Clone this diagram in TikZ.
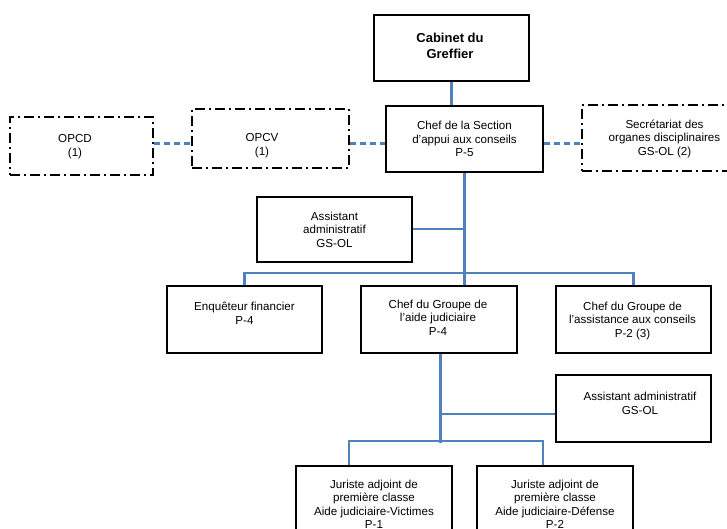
\documentclass[tikz,border=0pt]{standalone}
\usepackage{fontspec}
\setmainfont{Liberation Sans}
\usetikzlibrary{calc}
\definecolor{linkblue}{RGB}{79,129,189}
\begin{document}
\begin{tikzpicture}[x=1pt,y=-1pt,
  box/.style={draw=black, line width=1.2pt, rectangle, inner sep=0pt},
  dbox/.style={draw=black, line width=1.4pt, rectangle, inner sep=0pt,
    dash pattern=on 10pt off 4pt on 2pt off 4pt},
  txt/.style={align=center, inner sep=0pt, font=\fontsize{11.6}{13.5}\selectfont},
  btxt/.style={align=center, inner sep=0pt, font=\fontsize{13}{16}\selectfont\bfseries},
  link/.style={draw=linkblue, line width=2.1pt},
  thinlink/.style={draw=linkblue, line width=2pt},
  dlink/.style={draw=linkblue, line width=2.2pt, dash pattern=on 6pt off 4pt}]
\useasboundingbox (0,0) rectangle (727,529);
\clip (0,0) rectangle (727,529);
\fill[white] (0,0) rectangle (727,529);

% boxes
\node[box, minimum width=155pt, minimum height=66pt] (cab) at (451.5,48) {};
\node[btxt] (cabt) at (450,46) {Cabinet du\\Greffier};

\node[box, minimum width=157pt, minimum height=66pt] (chef) at (464.5,139) {};
\node[txt] (cheft) at (464.5,139) {Chef de la Section\\d'appui aux conseils\\P-5};

\node[dbox, minimum width=143pt, minimum height=58pt] (opcd) at (81.5,146) {};
\node[txt] (opcdt) at (75,146.5) {OPCD\\(1)};

\node[dbox, minimum width=157pt, minimum height=59pt] (opcv) at (270.5,138.5) {};
\node[txt] (opcvt) at (262,145.5) {OPCV\\(1)};

\node[dbox, minimum width=165pt, minimum height=66pt] (secr) at (664.5,138) {};
\node[txt] (secrt) at (664.5,138.5) {Secrétariat des\\organes disciplinaires\\GS-OL (2)};

\node[box, minimum width=155pt, minimum height=65pt] (a1) at (334.5,229.5) {};
\node[txt] (a1t) at (334.5,229.5) {Assistant\\administratif\\GS-OL};

\node[box, minimum width=155pt, minimum height=67pt] (enq) at (244.5,319.5) {};
\node[txt] (enqt) at (244.5,313.5) {Enquêteur financier\\P-4};

\node[box, minimum width=156pt, minimum height=67pt] (aide) at (439,319.5) {};
\node[txt] (aidet) at (438,317.5) {Chef du Groupe de\\l'aide judiciaire\\P-4};

\node[box, minimum width=155pt, minimum height=67pt] (ass) at (633.5,319.5) {};
\node[txt] (asst) at (632.5,320.5) {Chef du Groupe de\\l'assistance aux conseils\\P-2 (3)};

\node[box, minimum width=155pt, minimum height=67pt] (a2) at (633.5,408.5) {};
\node[txt] (a2t) at (640,403.5) {Assistant administratif\\GS-OL};

\node[box, minimum width=156pt, minimum height=79pt] (jv) at (374,505.5) {};
\node[txt] (jvt) at (374,504.5) {Juriste adjoint de\\première classe\\Aide judiciaire-Victimes\\P-1};

\node[box, minimum width=156pt, minimum height=79pt] (jd) at (555,505.5) {};
\node[txt] (jdt) at (555,504.5) {Juriste adjoint de\\première classe\\Aide judiciaire-Défense\\P-2};

% solid connectors
\coordinate (aidedown) at ([xshift=1.5pt]aide.south);
\coordinate (a2in) at ([yshift=-5.5pt]a2.west);
\coordinate (a1out) at ([yshift=0.5pt]a1.east);
\draw[link] (cab.south) -- (cab.south |- chef.north);
\draw[link] (chef.south) -- (chef.south |- aide.north);
\draw[thinlink] (a1out) -- (a1out -| chef.south);
\draw[link] (enq.north) -- ++(0,-12) -| (ass.north);
\draw[link] (aidedown) -- (aidedown |- a2.south);
\draw[link] (a2in) -- (a2in -| aidedown);
\draw[link] ([xshift=-25pt]jv.north) -- ++(0,-24) -| ([xshift=-12pt]jd.north);

% dashed connectors
\coordinate (dl) at (0,143.5);
\draw[dlink] (opcd.east |- dl) -- (opcv.west |- dl);
\draw[dlink] (opcv.east |- dl) -- (chef.west |- dl);
\draw[dlink] (chef.east |- dl) -- (secr.west |- dl);
\end{tikzpicture}
\end{document}
